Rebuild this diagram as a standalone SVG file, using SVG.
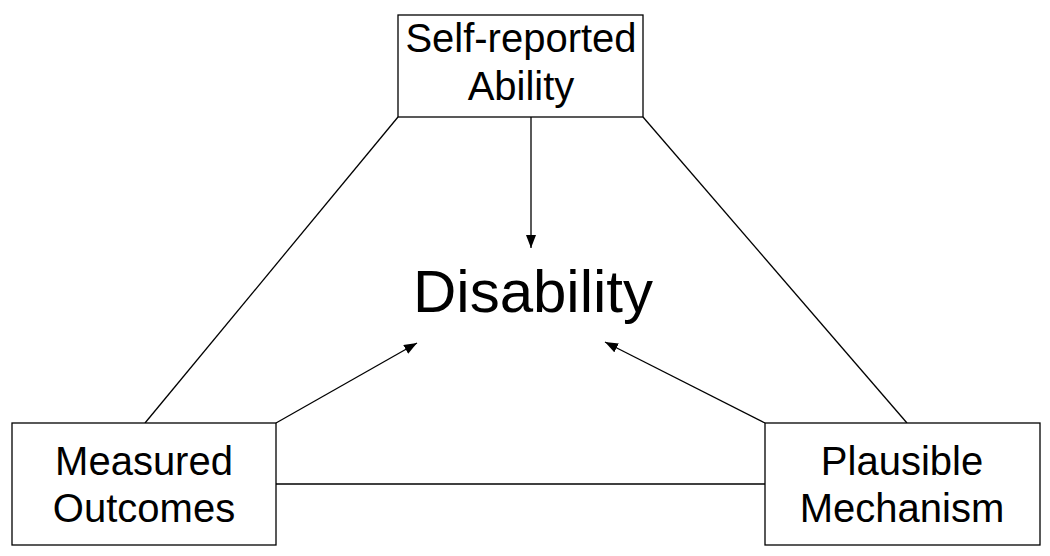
<svg xmlns="http://www.w3.org/2000/svg" width="1050" height="556" viewBox="0 0 1050 556">
<style>
.box{fill:#fff;stroke:#000;stroke-width:1.3}
.lbl{font-family:"Liberation Sans",Arial,sans-serif;font-size:40px;fill:#000;text-anchor:middle}
.c{stroke:#000;stroke-width:1.3;fill:none}
</style>
<defs>
<marker id="ah" markerUnits="userSpaceOnUse" markerWidth="14" markerHeight="12" refX="13" refY="5" orient="auto">
<path d="M0,0 L13,5 L0,10 Z" fill="#000"/>
</marker>
</defs>
<rect width="1050" height="556" fill="#fff"/>
<g id="connectors">
<line class="c" x1="398" y1="117" x2="145" y2="423"/>
<line class="c" x1="643" y1="117" x2="907" y2="423"/>
<line class="c" x1="276" y1="484" x2="765" y2="484"/>
<line class="c" x1="531" y1="117" x2="531" y2="248" marker-end="url(#ah)"/>
<line class="c" x1="276" y1="423" x2="417" y2="343" marker-end="url(#ah)"/>
<line class="c" x1="765" y1="423" x2="605" y2="342" marker-end="url(#ah)"/>
</g>
<g id="self-reported">
<rect class="box" x="398" y="15" width="245" height="102"/>
<text class="lbl" x="521" y="52">Self-reported</text>
<text class="lbl" x="521" y="100">Ability</text>
</g>
<g id="disability">
<text x="533" y="312" font-family="'Liberation Sans',Arial,sans-serif" font-size="60" text-anchor="middle">Disability</text>
</g>
<g id="measured">
<rect class="box" x="12" y="423" width="264" height="122"/>
<text class="lbl" x="144" y="475">Measured</text>
<text class="lbl" x="144" y="522">Outcomes</text>
</g>
<g id="plausible">
<rect class="box" x="765" y="423" width="275" height="122"/>
<text class="lbl" x="902" y="475">Plausible</text>
<text class="lbl" x="902" y="522">Mechanism</text>
</g>
</svg>
